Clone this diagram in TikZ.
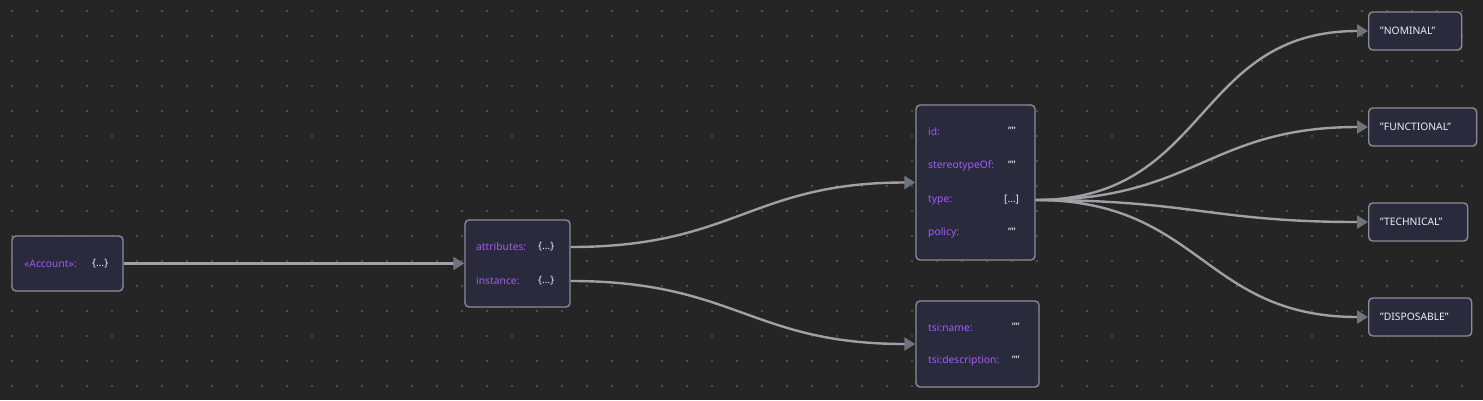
\documentclass[tikz,border=0pt]{standalone}
\usepackage{fontspec}
\setmainfont{Noto Sans}
\usepackage{tikz}
\usetikzlibrary{arrows.meta,positioning}
\definecolor{zemin}{HTML}{252525}
\definecolor{nokta}{HTML}{5C5C5C}
\definecolor{kartZemin}{HTML}{2A2A3D}
\definecolor{kartCizgi}{HTML}{8C8C96}
\definecolor{anahtarMor}{HTML}{A45AF7}
\definecolor{degerBeyaz}{HTML}{EDEDF5}
\definecolor{kenarGri}{HTML}{A0A0A6}
\definecolor{ucGri}{HTML}{6E747C}
\newcommand{\tirnak}{\char"22\relax}
\begin{document}
\begin{tikzpicture}[x=1pt, y=-1pt, every node/.style={font=\fontsize{10.3}{12}\selectfont},
  kart/.style={draw=kartCizgi, fill=kartZemin, line width=1.4pt, rounded corners=4pt},
  anahtar/.style={anchor=west, text=anahtarMor, inner sep=0pt},
  deger/.style={anchor=west, text=degerBeyaz, inner sep=0pt},
  secenek/.style={kart, anchor=west, minimum height=38pt},
  kenar/.style={kenarGri, line width=2.4pt,
    -{Triangle[length=11pt,width=13pt,color=ucGri,fill=ucGri]}}]
\fill[zemin] (0,0) rectangle (1483,400);
\useasboundingbox (0,0) rectangle (1483,400);
\foreach \i in {0,...,59}
  \foreach \j in {0,...,15}
    \fill[nokta] (12+25*\i,11+25*\j) circle (1.1);

\node[kart, minimum width=111pt, minimum height=55pt] (hesap) at (67.5,263.5) {};
\node[anahtar] (hesapK) at (24,264) {«Account»:};
\node[deger] (hesapV) at (92,264) {\{…\}};

\node[kart, minimum width=105pt, minimum height=87pt] (nitelik) at (517.5,263.5) {};
\node[anahtar] (nitelikK) at (476,247) {attributes:};
\node[deger] (nitelikV) at (538,247) {\{…\}};
\node[anahtar] (ornekK) at (476,281) {instance:};
\node[deger] (ornekV) at (538,281) {\{…\}};

\node[kart, minimum width=119pt, minimum height=155pt] (meta) at (975.5,182.5) {};
\node[anahtar] (idK) at (928,132) {id:};
\node[deger] (idV) at (1008,131) {\tirnak\tirnak};
\node[anahtar] (stereoK) at (928,166) {stereotypeOf:};
\node[deger] (stereoV) at (1008,165) {\tirnak\tirnak};
\node[anahtar] (tipK) at (928,200) {type:};
\node[deger] (tipV) at (1004,200) {[…]};
\node[anahtar] (politikaK) at (928,233) {policy:};
\node[deger] (politikaV) at (1008,232) {\tirnak\tirnak};

\node[kart, minimum width=123pt, minimum height=86pt] (tsi) at (977.5,344) {};
\node[anahtar] (adK) at (928,328) {tsi:name:};
\node[deger] (adV) at (1012,327) {\tirnak\tirnak};
\node[anahtar] (aciklamaK) at (928,361) {tsi:description:};
\node[deger] (aciklamaV) at (1012,360) {\tirnak\tirnak};

\node[secenek, minimum width=93pt] (nominal) at (1368,31) {};
\node[deger] (nominalT) at (1380,31) {\tirnak NOMINAL\tirnak};
\node[secenek, minimum width=108pt] (functional) at (1368,127) {};
\node[deger] (functionalT) at (1380,127) {\tirnak FUNCTIONAL\tirnak};
\node[secenek, minimum width=99pt] (technical) at (1368,222) {};
\node[deger] (technicalT) at (1380,222) {\tirnak TECHNICAL\tirnak};
\node[secenek, minimum width=103pt] (disposable) at (1368,317) {};
\node[deger] (disposableT) at (1380,317) {\tirnak DISPOSABLE\tirnak};

\draw[kenar] (hesap.east) -- (nitelik.west);
\draw[kenar] (nitelik.east |- nitelikK) to[out=0,in=180,looseness=1.2] (meta.west);
\draw[kenar] (nitelik.east |- ornekK) to[out=0,in=180,looseness=1.2] (tsi.west);
\foreach \h in {nominal,functional,technical,disposable}
  \draw[kenar] (meta.east |- tipK) to[out=0,in=180,looseness=1.2] (\h.west);
\end{tikzpicture}
\end{document}
